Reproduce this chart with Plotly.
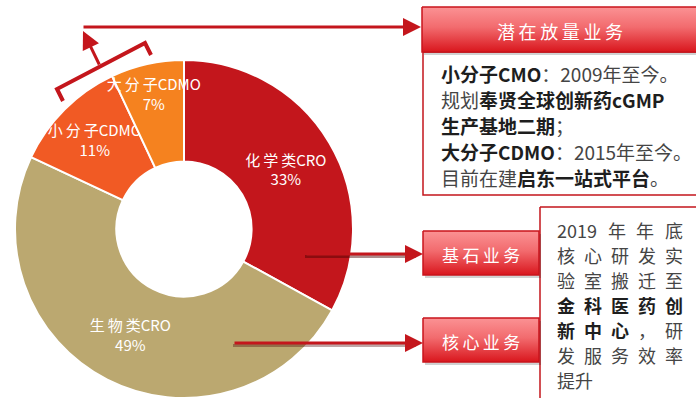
import re
import plotly.graph_objects as go

W, H = 696, 398

# ---- data -------------------------------------------------------------
segments = ["化学类CRO", "生物类CRO", "小分子CDMO", "大分子CDMO"]
shares = [33, 49, 11, 7]
seg_colors = ["#C3161C", "#BBA870", "#F15A24", "#F5821F"]

tag_top = "潜在放量业务"
tag_base = "基石业务"
tag_core = "核心业务"

top_note_lines = [
    "<b>小分子CMO</b>：2009年至今。",
    "规划<b>奉贤全球创新药cGMP</b>",
    "<b>生产基地二期</b>；",
    "<b>大分子CDMO</b>：2015年至今。",
    "目前在建<b>启东一站式平台</b>。",
]

side_note_rows = [
    ["2019", "年", "年", "底"],
    ["核", "心", "研", "发", "实"],
    ["验", "室", "搬", "迁", "至"],
    ["<b>金</b>", "<b>科</b>", "<b>医</b>", "<b>药</b>", "<b>创</b>"],
    ["<b>新</b>", "<b>中</b>", "<b>心</b>", "，", "研"],
    ["发", "服", "务", "效", "率"],
]
side_note_last = "提升"

# ---- styles -----------------------------------------------------------
RED = "#C4161C"
CJK = "Noto Sans CJK SC, Noto Sans, sans-serif"
LABEL_FONT = "Liberation Sans Narrow, Noto Sans CJK SC, sans-serif"
TEXT_GRAY = "#454545"
TEXT_DARK = "#1E1E1E"
THIN = "\u2009"


def spaced_cjk(s):
    """Open up the tracking between consecutive CJK characters."""
    out = ""
    for i, c in enumerate(s):
        out += c
        if i < len(s) - 1 and not c.isascii() and not s[i + 1].isascii():
            out += THIN
    return out


fig = go.Figure()

# donut
fig.add_trace(go.Pie(
    labels=segments,
    values=shares,
    text=[spaced_cjk(s) for s in segments],
    sort=False,
    direction="clockwise",
    rotation=0,
    hole=0.4,
    marker=dict(colors=seg_colors, line=dict(color="white", width=2)),
    texttemplate="%{text}<br>%{value}%",
    textposition="inside",
    insidetextorientation="horizontal",
    insidetextfont=dict(color="white", size=15, family=LABEL_FONT),
    domain=dict(x=[15 / W, 353 / W], y=[0, 338 / H]),
    hoverinfo="skip",
    showlegend=False,
))


def box(x0, y0, x1, y1, gradient=False, shadow=False):
    xs = [x0, x1, x1, x0, x0]
    ys = [y0, y0, y1, y1, y0]
    if shadow:
        fig.add_trace(go.Scatter(
            x=[v + 2 for v in xs], y=[v + 3 for v in ys], mode="lines",
            fill="toself", fillcolor="rgba(0,0,0,0.18)",
            line=dict(width=0), hoverinfo="skip", showlegend=False))
    kw = {}
    if gradient:
        kw["fillgradient"] = dict(
            type="vertical",
            colorscale=[[0, "#FB9294"], [0.45, "#F26B6E"], [1, "#D9161D"]],
            start=y0, stop=y1)
    else:
        kw["fillcolor"] = "white"
    fig.add_trace(go.Scatter(
        x=xs, y=ys, mode="lines", fill="toself",
        line=dict(color=RED if not gradient else "#C9151C", width=1.5),
        hoverinfo="skip", showlegend=False, **kw))


# note boxes
box(423, 52, 697, 195)
box(540, 207, 697, 402)
# tag boxes
box(422, 7, 697, 52, gradient=True, shadow=True)
box(423, 231, 539, 275, gradient=True, shadow=True)
box(423, 318, 539, 362, gradient=True, shadow=True)

ann = []


def text(x, y, s, size, color, anchor="left"):
    ann.append(dict(x=x, y=y, xref="x", yref="y", text=s, showarrow=False,
                    xanchor=anchor, yanchor="middle",
                    font=dict(family=CJK, size=size, color=color)))


def dark_bold(s):
    return re.sub(r"<b>(.*?)</b>",
                  lambda m: f"<span style='color:{TEXT_DARK}'><b>{m.group(1)}</b></span>", s)


# tag captions
text(560, 31, spaced_cjk(tag_top), 18, "white", "center")
text(481, 254, spaced_cjk(tag_base), 17, "white", "center")
text(481, 341, spaced_cjk(tag_core), 17, "white", "center")

# upper note
for i, line in enumerate(top_note_lines):
    text(439, 73 + i * 26, dark_bold(line), 19, TEXT_GRAY)

# side note, justified rows
FS = 18
LEFT, RIGHT = 555, 681


def tok_width(tok):
    plain = re.sub(r"<.*?>", "", tok)
    return sum(0.56 * FS if c.isascii() else FS for c in plain)


for i, row in enumerate(side_note_rows):
    widths = [tok_width(t) for t in row]
    gap = (RIGHT - LEFT - sum(widths)) / (len(row) - 1)
    x = LEFT
    for tok, w in zip(row, widths):
        text(x, 230 + i * 25, dark_bold(tok), FS, TEXT_GRAY)
        x += w + gap
text(LEFT, 230 + len(side_note_rows) * 25, side_note_last, FS, TEXT_GRAY)


def arrow(x0, y0, x1, y1):
    ann.append(dict(x=x1, y=y1, ax=x0, ay=y0, xref="x", yref="y",
                    axref="x", ayref="y", text="", showarrow=True,
                    arrowhead=2, arrowsize=1.2, arrowwidth=3,
                    arrowcolor=RED, standoff=0, startstandoff=0))


# connectors
shapes = [
    dict(type="line", x0=305, y0=256.5, x1=416, y1=256.5, xref="x", yref="y",
         line=dict(color="rgba(70,0,0,0.45)", width=3), layer="above"),
    dict(type="line", x0=233, y0=345.5, x1=416, y1=345.5, xref="x", yref="y",
         line=dict(color="rgba(70,0,0,0.35)", width=3), layer="above"),
    dict(type="path", path="M 63 101 L 57 89 L 145 43 L 151 55",
         xref="x", yref="y", line=dict(color=RED, width=4), layer="above"),
]
arrow(82, 27, 421, 27)
arrow(100, 66, 83, 31)
arrow(305, 254, 423, 254)
arrow(233, 343, 423, 343)

fig.update_layout(
    width=W, height=H,
    margin=dict(l=0, r=0, t=0, b=0),
    paper_bgcolor="white", plot_bgcolor="white",
    xaxis=dict(range=[0, W], visible=False, fixedrange=True),
    yaxis=dict(range=[H, 0], visible=False, fixedrange=True),
    uniformtext=dict(minsize=15, mode="show"),
    annotations=ann,
    shapes=shapes,
    showlegend=False,
)

fig.write_html("out.html")
